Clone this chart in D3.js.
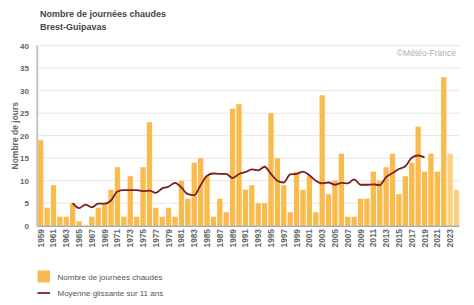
<!DOCTYPE html>
<html><head><meta charset="utf-8">
<script src="https://cdn.jsdelivr.net/npm/d3@7"></script>
<style>
html,body{margin:0;padding:0;background:#fff;}
svg text{font-family:"Liberation Sans",Arial,sans-serif;}
</style></head>
<body><svg id="c" width="474" height="305"></svg>
<script>
const years = d3.range(1959, 2025);
const hotDays = [19,4,9,2,2,5,1,0,2,4,5,8,13,2,11,2,13,23,4,2,4,2,10,6,14,15,11,2,6,3,26,27,8,9,5,5,25,15,9,3,12,8,11,3,29,7,10,16,2,2,6,6,12,10,13,16,7,11,14,22,12,16,12,33,16,8];
const provisionalYears = [2023, 2024];
const avgYears = d3.range(1964, 2020);
const movingAvg = [5.0,3.9,4.7,4.1,4.9,4.9,5.6,7.6,7.9,7.9,
  7.9,7.7,7.8,7.3,8.3,8.7,9.5,8.5,7.0,6.8,
  9.0,11.1,11.6,11.5,11.5,10.6,11.5,11.9,12.5,12.3,
  13.1,11.5,10.0,9.6,11.4,11.5,12.0,11.2,10.0,9.4,
  9.6,9.1,9.5,9.4,10.3,9.1,9.1,9.2,9.0,10.8,
  11.7,12.6,13.2,15.1,15.6,15.2];
const yTicks = [0,5,10,15,20,25,30,35,40];
const xTickYears = d3.range(1959, 2025, 2);

const svg = d3.select("#c");
const L = 37.7, R = 459.5, T = 45.7, B = 225.7;
const x = d3.scaleBand().domain(years).range([L, R]).paddingInner(0.17).paddingOuter(0.05);
const y = d3.scaleLinear().domain([0, 40]).range([B, T]);

// titles
svg.append("text").attr("x", 40).attr("y", 16.5).attr("font-size", 9).attr("font-weight", "bold").attr("fill", "#444").text("Nombre de journées chaudes");
svg.append("text").attr("x", 40).attr("y", 30).attr("font-size", 9).attr("font-weight", "bold").attr("fill", "#444").text("Brest-Guipavas");

// grid
svg.append("g").selectAll("line").data(yTicks.filter(d => d > 0)).join("line")
  .attr("x1", L).attr("x2", R).attr("y1", d => y(d)).attr("y2", d => y(d))
  .attr("stroke", "#e6e6e6").attr("stroke-width", 1);

// y tick labels
svg.append("g").selectAll("text").data(yTicks).join("text")
  .attr("x", 29).attr("y", d => y(d) + 3).attr("text-anchor", "end")
  .attr("font-size", 8).attr("font-weight", "bold").attr("fill", "#666").text(d => d);

svg.append("text").attr("transform", `translate(17.5,${(T + B) / 2}) rotate(-90)`)
  .attr("text-anchor", "middle").attr("font-size", 8.5).attr("font-weight", "bold").attr("fill", "#666")
  .text("Nombre de jours");

// watermark
svg.append("text").attr("x", 456).attr("y", 56).attr("text-anchor", "end").attr("font-size", 8.5).attr("fill", "#b0b0b0").text("©Météo-France");

// bars
svg.append("g").selectAll("rect").data(years).join("rect")
  .attr("x", d => x(d)).attr("width", x.bandwidth())
  .attr("y", (d, i) => y(hotDays[i])).attr("height", (d, i) => y(0) - y(hotDays[i]))
  .attr("fill", d => provisionalYears.includes(d) ? "#fcd07f" : "#f9bb4d");

// axes lines
svg.append("line").attr("x1", L).attr("x2", R).attr("y1", B + 0.5).attr("y2", B + 0.5).attr("stroke", "#aaa").attr("stroke-width", 1.5);
svg.append("line").attr("x1", L - 0.5).attr("x2", L - 0.5).attr("y1", T).attr("y2", B + 1).attr("stroke", "#c4c4c4").attr("stroke-width", 2);

// moving average
const line = d3.line().x((d, i) => x(avgYears[i]) + x.bandwidth() / 2).y(d => y(d)).curve(d3.curveMonotoneX);
svg.append("path").datum(movingAvg).attr("d", line).attr("fill", "none")
  .attr("stroke", "#7a1f1f").attr("stroke-width", 1.8).attr("stroke-linejoin", "round");

// x tick labels
svg.append("g").selectAll("text").data(xTickYears).join("text")
  .attr("transform", d => `translate(${x(d) + x.bandwidth() / 2 + 3},229) rotate(-90)`)
  .attr("text-anchor", "end").attr("font-size", 8.3).attr("font-weight", "bold").attr("fill", "#666").text(d => d);

// legend
svg.append("rect").attr("x", 37.5).attr("y", 270.5).attr("width", 12.5).attr("height", 12).attr("fill", "#f9bb4d");
svg.append("text").attr("x", 57.5).attr("y", 279.5).attr("font-size", 8).attr("fill", "#555").text("Nombre de journées chaudes");
svg.append("line").attr("x1", 37.5).attr("x2", 50).attr("y1", 293).attr("y2", 293).attr("stroke", "#7a1f1f").attr("stroke-width", 1.8);
svg.append("text").attr("x", 57.5).attr("y", 296).attr("font-size", 8).attr("fill", "#555").text("Moyenne glissante sur 11 ans");
</script></body></html>
